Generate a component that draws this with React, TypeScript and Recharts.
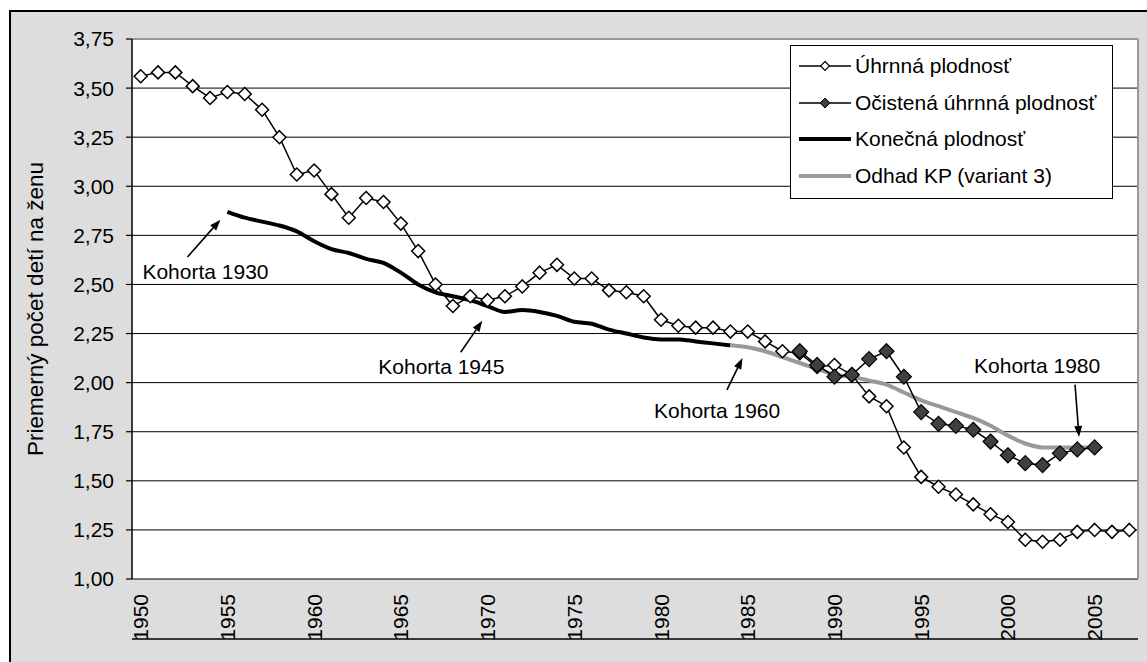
import React from 'react';
import { LineChart, Line, XAxis, YAxis, CartesianGrid, ReferenceLine, ReferenceDot } from 'recharts';

const FONT = '"Liberation Sans", Arial, Helvetica, sans-serif';

const years = [
  1950, 1951, 1952, 1953, 1954, 1955, 1956, 1957, 1958, 1959,
  1960, 1961, 1962, 1963, 1964, 1965, 1966, 1967, 1968, 1969,
  1970, 1971, 1972, 1973, 1974, 1975, 1976, 1977, 1978, 1979,
  1980, 1981, 1982, 1983, 1984, 1985, 1986, 1987, 1988, 1989,
  1990, 1991, 1992, 1993, 1994, 1995, 1996, 1997, 1998, 1999,
  2000, 2001, 2002, 2003, 2004, 2005, 2006, 2007,
];

// Úhrnná plodnosť 1950-2007
const tfr = [
  3.56, 3.58, 3.58, 3.51, 3.45, 3.48, 3.47, 3.39, 3.25, 3.06,
  3.08, 2.96, 2.84, 2.94, 2.92, 2.81, 2.67, 2.50, 2.39, 2.44,
  2.42, 2.44, 2.49, 2.56, 2.60, 2.53, 2.53, 2.47, 2.46, 2.44,
  2.32, 2.29, 2.28, 2.28, 2.26, 2.26, 2.21, 2.16, 2.15, 2.08,
  2.09, 2.04, 1.93, 1.88, 1.67, 1.52, 1.47, 1.43, 1.38, 1.33,
  1.29, 1.20, 1.19, 1.20, 1.24, 1.25, 1.24, 1.25,
];

// Očistená úhrnná plodnosť 1988-2005
const adjustedStart = 1988;
const adjusted = [
  2.16, 2.09, 2.03, 2.04, 2.12, 2.16, 2.03, 1.85, 1.79, 1.78,
  1.76, 1.70, 1.63, 1.59, 1.58, 1.64, 1.66, 1.67,
];

// Konečná plodnosť (kohorty 1930-1959, vynesené v roku +25) 1955-1984
const completedStart = 1955;
const completed = [
  2.87, 2.84, 2.82, 2.80, 2.77, 2.72, 2.68, 2.66, 2.63, 2.61,
  2.56, 2.50, 2.46, 2.44, 2.42, 2.39, 2.36, 2.37, 2.36, 2.34,
  2.31, 2.30, 2.27, 2.25, 2.23, 2.22, 2.22, 2.21, 2.20, 2.19,
];

// Odhad KP (variant 3) 1984-2005
const estimateStart = 1984;
const estimate = [
  2.19, 2.18, 2.16, 2.13, 2.10, 2.07, 2.04, 2.03, 2.01, 1.99,
  1.95, 1.91, 1.88, 1.85, 1.82, 1.78, 1.73, 1.69, 1.67, 1.67,
  1.67, 1.67,
];

const yTicks = [1, 1.25, 1.5, 1.75, 2, 2.25, 2.5, 2.75, 3, 3.25, 3.5, 3.75];
const yearLabels = [1950, 1955, 1960, 1965, 1970, 1975, 1980, 1985, 1990, 1995, 2000, 2005];

const seriesNames = ['Úhrnná plodnosť', 'Očistená úhrnná plodnosť', 'Konečná plodnosť', 'Odhad KP (variant 3)'];

// cohort annotations: text anchor and arrow (tail -> head), in data units
const cohorts = [
  { text: 'Kohorta 1930', tx: 1950.1, ty: 2.53, ax1: 1952.7, ay1: 2.64, ax2: 1954.6, ay2: 2.83 },
  { text: 'Kohorta 1945', tx: 1963.7, ty: 2.045, ax1: 1968.45, ay1: 2.155, ax2: 1969.7, ay2: 2.315 },
  { text: 'Kohorta 1960', tx: 1979.6, ty: 1.82, ax1: 1983.8, ay1: 1.963, ax2: 1984.7, ay2: 2.125 },
  { text: 'Kohorta 1980', tx: 1998.05, ty: 2.05, ax1: 2003.87, ay1: 1.99, ax2: 2004.1, ay2: 1.723 },
];

const pick = (arr: number[], start: number, year: number) => {
  const i = year - start;
  return i >= 0 && i < arr.length ? arr[i] : null;
};

const data = years.map((year, i) => ({
  year,
  tfr: tfr[i],
  adj: pick(adjusted, adjustedStart, year),
  cf: pick(completed, completedStart, year),
  est: pick(estimate, estimateStart, year),
}));

const bandEdges = years.map((y) => y - 0.5).concat(years[years.length - 1] + 0.5);

const diamond = (cx: number, cy: number, r: number) =>
  `M${cx},${cy - r}L${cx + r},${cy}L${cx},${cy + r}L${cx - r},${cy}Z`;

const HollowDot = (p: any) => {
  if (p.cx == null || p.cy == null || p.value == null) return <g key={p.key ?? p.index} />;
  return <path key={p.key ?? p.index} d={diamond(p.cx, p.cy, 6.5)} fill="#fff" stroke="#000" strokeWidth={1.5} />;
};

const FilledDot = (p: any) => {
  if (p.cx == null || p.cy == null || p.value == null) return <g key={p.key ?? p.index} />;
  return <path key={p.key ?? p.index} d={diamond(p.cx, p.cy, 7.5)} fill="#404040" stroke="#000" strokeWidth={1.2} />;
};

const YearTick = (p: any) => {
  const y = p.y + 6;
  return (
    <text
      x={p.x}
      y={y}
      transform={`rotate(-90, ${p.x}, ${y})`}
      textAnchor="end"
      dy="0.36em"
      fontSize={21}
      fontFamily={FONT}
      fill="#000"
    >
      {p.payload.value}
    </text>
  );
};

const Arrow = (p: any) => {
  const { x1, y1, x2, y2 } = p;
  const ang = Math.atan2(y2 - y1, x2 - x1);
  const len = 11;
  const w = 4;
  const bx = x2 - len * Math.cos(ang);
  const by = y2 - len * Math.sin(ang);
  const nx = -Math.sin(ang) * w;
  const ny = Math.cos(ang) * w;
  return (
    <g>
      <line x1={x1} y1={y1} x2={bx} y2={by} stroke="#000" strokeWidth={1.6} />
      <polygon points={`${x2},${y2} ${bx + nx},${by + ny} ${bx - nx},${by - ny}`} fill="#000" />
    </g>
  );
};

const YLabel = (p: any) => {
  const vb = p.viewBox || {};
  const cx = (vb.x ?? 0) + 35;
  const cy = (vb.y ?? 39) + (vb.height ?? 540) / 2;
  return (
    <text
      x={cx}
      y={cy}
      transform={`rotate(-90, ${cx}, ${cy})`}
      textAnchor="middle"
      dominantBaseline="central"
      fontSize={22.5}
      fontFamily={FONT}
      fill="#000"
    >
      Priemerný počet detí na ženu
    </text>
  );
};

const LegendBox = () => {
  const rows = [
    { name: seriesNames[0], color: '#000', width: 1.5, marker: 'hollow' },
    { name: seriesNames[1], color: '#000', width: 1.5, marker: 'filled' },
    { name: seriesNames[2], color: '#000', width: 4, marker: '' },
    { name: seriesNames[3], color: '#999', width: 4, marker: '' },
  ];
  return (
    <div
      style={{
        position: 'absolute',
        left: 790,
        top: 45,
        width: 321,
        height: 150,
        background: '#fff',
        border: '1px solid #000',
        fontFamily: FONT,
        fontSize: 21,
        paddingTop: 2,
        boxSizing: 'content-box',
      }}
    >
      {rows.map((r) => (
        <div key={r.name} style={{ height: 36.6, display: 'flex', alignItems: 'center', whiteSpace: 'nowrap' }}>
          <svg width={64} height={20} style={{ flex: 'none' }}>
            <line x1={8} y1={10} x2={60} y2={10} stroke={r.color} strokeWidth={r.width} />
            {r.marker === 'hollow' && <path d={diamond(34, 10, 4.5)} fill="#fff" stroke="#000" strokeWidth={1.2} />}
            {r.marker === 'filled' && <path d={diamond(34, 10, 5)} fill="#404040" stroke="#000" strokeWidth={1} />}
          </svg>
          <span>{r.name}</span>
        </div>
      ))}
    </div>
  );
};

export default function App() {
  return (
    <div style={{ position: 'absolute', left: 0, top: 0, width: 1147, height: 662, overflow: 'hidden', background: '#fff' }}>
      <div
        style={{
          position: 'absolute',
          left: 9,
          top: 10,
          width: 1150,
          height: 660,
          background: '#dddddd',
          border: '2px solid #000',
        }}
      />
      <div style={{ position: 'absolute', left: 0, top: 0 }}>
        <LineChart width={1147} height={662} data={data} margin={{ top: 39, right: 9, left: 0, bottom: 15 }}>
          <CartesianGrid vertical={false} stroke="#000" strokeWidth={1} fill="#fff" fillOpacity={1} yAxisId="y" xAxisId="marks" />
          <XAxis
            xAxisId="marks"
            dataKey="year"
            type="number"
            domain={[bandEdges[0], bandEdges[bandEdges.length - 1]]}
            ticks={bandEdges}
            interval={0}
            tick={false}
            tickSize={6}
            height={8}
            axisLine={{ stroke: '#000', strokeWidth: 1.5 }}
            tickLine={{ stroke: '#000', strokeWidth: 1.2 }}
            allowDataOverflow
          />
          <XAxis
            xAxisId="labels"
            dataKey="year"
            type="number"
            domain={[bandEdges[0], bandEdges[bandEdges.length - 1]]}
            ticks={yearLabels}
            interval={0}
            tick={<YearTick />}
            tickSize={0}
            tickMargin={9}
            height={60}
            axisLine={false}
            tickLine={false}
            allowDataOverflow
          />
          <YAxis
            yAxisId="y"
            type="number"
            domain={[1, 3.75]}
            ticks={yTicks}
            interval={0}
            width={132}
            tickSize={6}
            tickMargin={12}
            tickFormatter={(v: number) => v.toFixed(2).replace('.', ',')}
            tick={{ fill: '#000', fontSize: 21, fontFamily: FONT }}
            axisLine={{ stroke: '#000', strokeWidth: 1.5 }}
            tickLine={{ stroke: '#000', strokeWidth: 1.2 }}
            label={<YLabel />}
            allowDataOverflow
          />
          <ReferenceLine xAxisId="marks" yAxisId="y" y={3.75} stroke="#999" strokeWidth={2} />
          <ReferenceLine xAxisId="marks" yAxisId="y" x={bandEdges[bandEdges.length - 1]} stroke="#999" strokeWidth={2} />
          <Line
            xAxisId="marks"
            yAxisId="y"
            type="monotone"
            dataKey="cf"
            name={seriesNames[2]}
            stroke="#000"
            strokeWidth={4}
            dot={false}
            activeDot={false}
            isAnimationActive={false}
          />
          <Line
            xAxisId="marks"
            yAxisId="y"
            type="monotone"
            dataKey="est"
            name={seriesNames[3]}
            stroke="#999"
            strokeWidth={4}
            dot={false}
            activeDot={false}
            isAnimationActive={false}
          />
          <Line
            xAxisId="marks"
            yAxisId="y"
            type="linear"
            dataKey="tfr"
            name={seriesNames[0]}
            stroke="#000"
            strokeWidth={1.5}
            dot={HollowDot}
            activeDot={false}
            isAnimationActive={false}
          />
          <Line
            xAxisId="marks"
            yAxisId="y"
            type="linear"
            dataKey="adj"
            name={seriesNames[1]}
            stroke="#000"
            strokeWidth={1.5}
            dot={FilledDot}
            activeDot={false}
            isAnimationActive={false}
          />
          {cohorts.map((c) => (
            <ReferenceLine
              key={c.text + '-arrow'}
              xAxisId="marks"
              yAxisId="y"
              segment={[{ x: c.ax1, y: c.ay1 }, { x: c.ax2, y: c.ay2 }]}
              shape={Arrow}
            />
          ))}
          {cohorts.map((c) => (
            <ReferenceDot
              key={c.text}
              xAxisId="marks"
              yAxisId="y"
              x={c.tx}
              y={c.ty}
              r={1}
              shape={(p: any) => (
                <text x={p.cx} y={p.cy} fontSize={21} fontFamily={FONT} fill="#000" textAnchor="start">
                  {c.text}
                </text>
              )}
            />
          ))}
        </LineChart>
      </div>
      <LegendBox />
    </div>
  );
}
